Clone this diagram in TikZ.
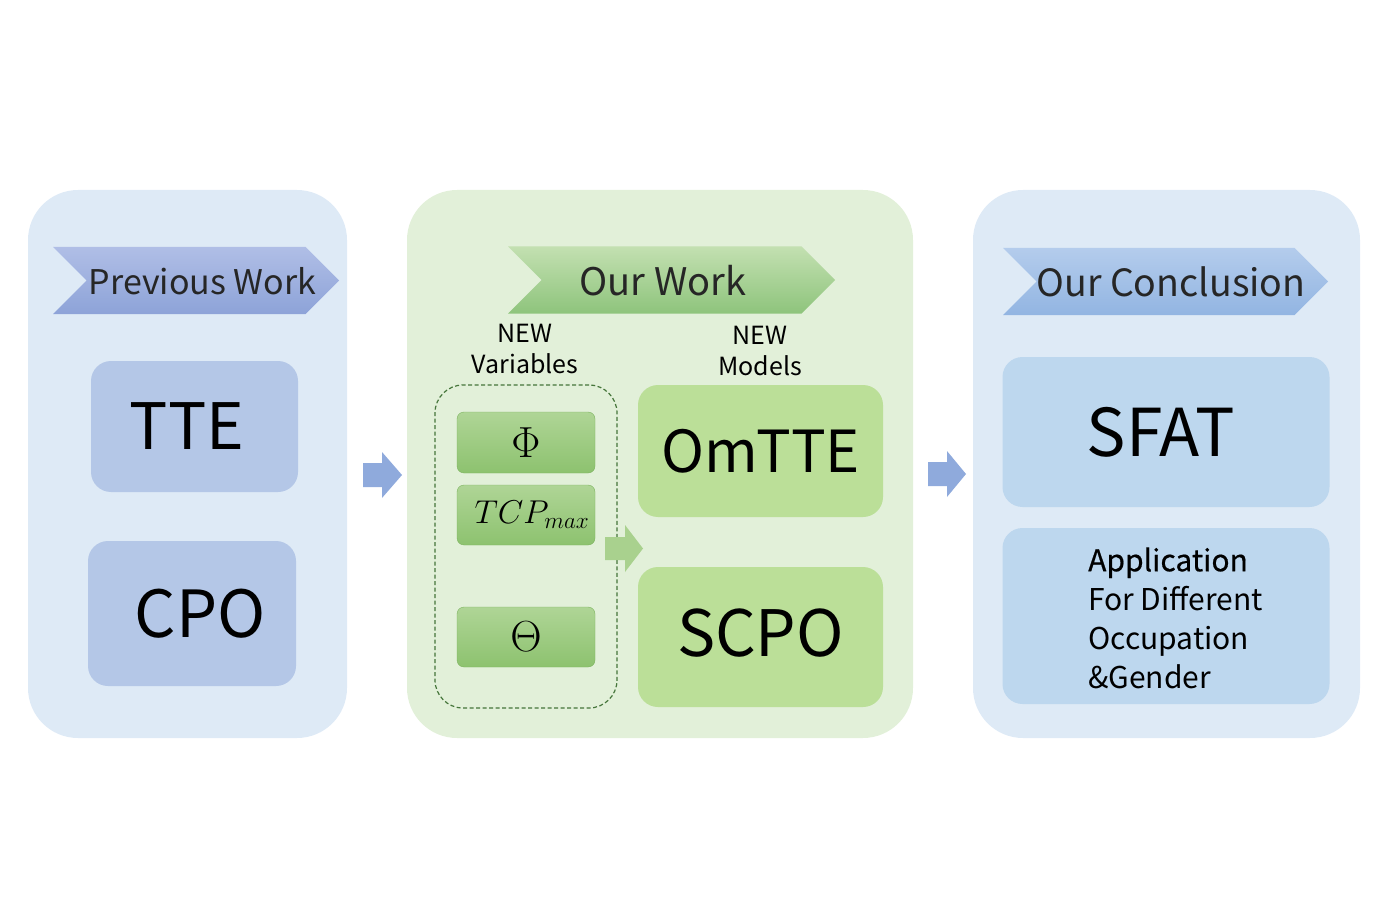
\documentclass[tikz,border=0pt]{standalone}
\usepackage{fix-cm}
\usepackage[no-math]{fontspec}
\setmainfont{Noto Sans CJK SC}
\newfontfamily\appheadfont{Noto Sans CJK SC}[FakeBold=0.5]
\usepackage{amsmath}
\usepackage{graphicx}
\usepackage{tikz}
\usetikzlibrary{shapes.symbols}

\newcommand{\varsym}[2][1.45]{\scalebox{#1}{$#2$}}

\definecolor{panelblue}{HTML}{DEEAF6}
\definecolor{panelgreen}{HTML}{E2F0D9}
\definecolor{boxblue}{HTML}{B4C7E7}
\definecolor{boxlight}{HTML}{BDD7EE}
\definecolor{boxgreen}{HTML}{BBDF98}
\definecolor{vartop}{HTML}{AFD596}
\definecolor{varbot}{HTML}{8DC26F}
\definecolor{varline}{HTML}{7DB35F}
\definecolor{dashgreen}{HTML}{45753A}
\definecolor{arrowblue}{HTML}{8FAADC}
\definecolor{arrowgreen}{HTML}{A9D18E}
\definecolor{headtext}{HTML}{262626}
\definecolor{prevtop}{HTML}{B0BEE6}
\definecolor{prevbot}{HTML}{8DA3D8}
\definecolor{ourtop}{HTML}{C3E0B1}
\definecolor{ourbot}{HTML}{8EC47C}
\definecolor{concltop}{HTML}{B4CCEC}
\definecolor{conclbot}{HTML}{92B5E2}

\begin{document}
\begin{tikzpicture}[x=1pt, y=-1pt]
			\tikzstyle{panel} = [rounded corners=50pt, inner sep=0pt]
			\tikzstyle{banner} = [signal, signal from=west, signal to=east, signal pointer angle=90,
				minimum height=67pt, inner sep=0pt]
			\tikzstyle{title} = [text=headtext, inner sep=0pt]
			\tikzstyle{bigbox} = [rounded corners=20pt, inner sep=0pt]
			\tikzstyle{varbox} = [draw=varline, rounded corners=7pt, top color=vartop, bottom color=varbot,
				minimum width=138pt, minimum height=60pt, inner sep=0pt, font=\fontsize{30}{34}\selectfont]
			\useasboundingbox (0,0) rectangle (1385,920);

			% three panels
			\node[panel, fill=panelblue, minimum width=319pt, minimum height=548pt] (prev) at (187.5,464) {};
			\node[panel, fill=panelgreen, minimum width=506pt, minimum height=548pt] (ours) at (660,464) {};
			\node[panel, fill=panelblue, minimum width=387pt, minimum height=548pt] (concl) at (1166.5,464) {};

			% banners
			\node[banner, top color=prevtop, bottom color=prevbot, minimum width=286pt] (prevhead) at (196,280.5) {};
			\node[banner, top color=ourtop, bottom color=ourbot, minimum width=327pt] (ourhead) at (671.5,280) {};
			\node[banner, top color=concltop, bottom color=conclbot, minimum width=325pt] (conclhead) at (1165.5,281.5) {};
			\node[title, font=\fontsize{34}{38}\selectfont] (prevtitle) at (202.5,281) {Previous Work};
			\node[title, font=\fontsize{38}{42}\selectfont] (ourtitle) at (663,281) {Our Work};
			\node[title, font=\fontsize{37.5}{42}\selectfont] (concltitle) at (1171,282) {Our Conclusion};

			% previous work
			\node[bigbox, fill=boxblue, minimum width=207pt, minimum height=131pt,
				font=\fontsize{64}{68}\selectfont] (tte) at (194.5,426.5) {\hspace*{-15pt}TTE};
			\node[bigbox, fill=boxblue, minimum width=208pt, minimum height=145pt,
				font=\fontsize{65}{69}\selectfont] (cpo) at (192,613.5) {\hspace*{16pt}CPO};

			% our work
			\node[align=center, font=\fontsize{25}{31}\selectfont] (newvar) at (525,349) {NEW\\Variables};
			\node[align=center, font=\fontsize{25}{31}\selectfont] (newmod) at (760,351) {NEW\\Models};
			\node[draw=dashgreen, dash pattern=on 4pt off 2.5pt, line width=1.2pt, rounded corners=28pt,
				minimum width=182pt, minimum height=323pt] (vars) at (526,546.5) {};
			\node[varbox, minimum height=61pt] (phi) at (526,442.5) {\varsym{\Phi}};
			\node[varbox] (tcp) at (526,515) {\hspace*{12pt}\varsym[1.1]{TCP_{max}}};
			\node[varbox] (theta) at (526,637) {\varsym{\Theta}};
			\node[bigbox, fill=boxgreen, minimum width=245pt, minimum height=132pt,
				font=\fontsize{58}{62}\selectfont] (omtte) at (760.5,451) {OmTTE};
			\node[bigbox, fill=boxgreen, minimum width=245pt, minimum height=140pt,
				font=\fontsize{64}{68}\selectfont] (scpo) at (760.5,637) {\raisebox{9pt}{SCPO}};

			% conclusion
			\node[bigbox, fill=boxlight, minimum width=327pt, minimum height=150pt,
				font=\fontsize{66}{70}\selectfont] (sfat) at (1166,432) {\hspace*{-10pt}SFAT};
			\node[bigbox, fill=boxlight, minimum width=327pt, minimum height=176pt] (app) at (1166,616) {};
			\node[anchor=west, align=left, inner sep=0pt, font=\fontsize{30}{39}\selectfont] (apptext) at (1088,618)
				{{\appheadfont Application}\\For Different\\Occupation\\\&Gender};

			% block arrows
			\coordinate (arrowa) at (363,475);
			\coordinate (arrowb) at (928,474);
			\coordinate (arrowc) at (605,548.5);
			\fill[arrowblue] (arrowa) ++(0,-12) -- ++(19,0) -- ++(0,-11) -- ++(20,23) -- ++(-20,23)
				-- ++(0,-11) -- ++(-19,0) -- cycle;
			\fill[arrowblue] (arrowb) ++(0,-12) -- ++(19,0) -- ++(0,-11) -- ++(19,23) -- ++(-19,23)
				-- ++(0,-11) -- ++(-19,0) -- cycle;
			\fill[arrowgreen] (arrowc) ++(0,-11.5) -- ++(20,0) -- ++(0,-12) -- ++(18,23.5) -- ++(-18,23.5)
				-- ++(0,-12) -- ++(-20,0) -- cycle;
			\end{tikzpicture}
\end{document}
